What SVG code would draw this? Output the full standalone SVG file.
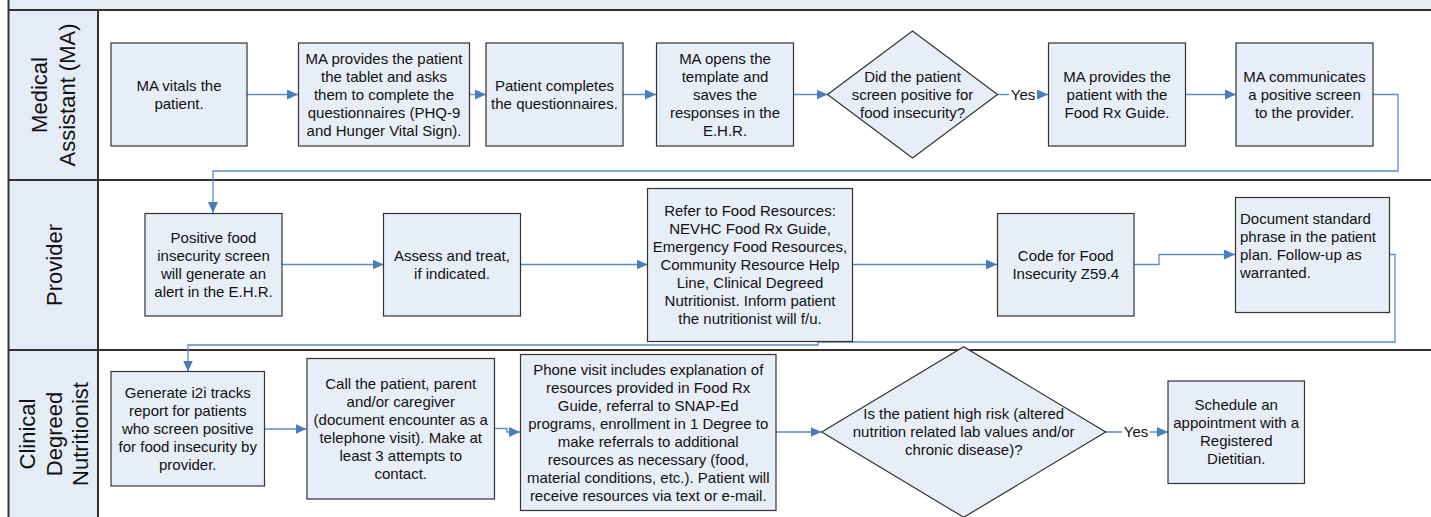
<svg xmlns="http://www.w3.org/2000/svg" width="1431" height="517" viewBox="0 0 1431 517">
<style>
.lane{fill:#e6ecf6;stroke:none}
.sep{stroke:#333;stroke-width:2;fill:none}
.box{fill:#e8eef7;stroke:#333;stroke-width:1.2}
.t{font-family:"Liberation Sans",Arial,sans-serif;font-size:15px;fill:#111;text-anchor:middle}
.tl{font-family:"Liberation Sans",Arial,sans-serif;font-size:15px;fill:#111;text-anchor:start}
.h{font-family:"Liberation Sans",Arial,sans-serif;font-size:22px;fill:#111;text-anchor:middle}
.c{fill:none;stroke:#5a8ad0;stroke-width:1.3;marker-end:url(#ah)}
</style>
<defs>
<marker id="ah" markerUnits="userSpaceOnUse" markerWidth="11" markerHeight="10" refX="11" refY="5" orient="auto">
<path d="M0,0 L11,5 L0,10 z" fill="#4a7ebb"/>
</marker>
</defs>
<rect x="0" y="0" width="1431" height="517" fill="#ffffff"/>
<g id="lanes">
<rect class="lane" x="8" y="0" width="1423" height="10"/>
<rect class="lane" x="8" y="10" width="90" height="507"/>
<line class="sep" x1="8" y1="10" x2="1431" y2="10"/>
<line class="sep" x1="8" y1="180" x2="1431" y2="180"/>
<line class="sep" x1="8" y1="350" x2="1431" y2="350"/>
<line class="sep" x1="8.5" y1="0" x2="8.5" y2="517"/>
<line class="sep" x1="98" y1="10" x2="98" y2="517"/>
<text class="h" transform="translate(0,95) rotate(-90)"><tspan x="0" y="47">Medical</tspan><tspan x="0" y="75">Assistant (MA)</tspan></text>
<text class="h" transform="translate(0,265) rotate(-90)"><tspan x="0" y="62">Provider</tspan></text>
<text class="h" transform="translate(0,434) rotate(-90)"><tspan x="0" y="35">Clinical</tspan><tspan x="0" y="62">Degreed</tspan><tspan x="0" y="88">Nutritionist</tspan></text>
</g>
<g id="connectors">
<path class="c" d="M247,94.5 H298"/>
<path class="c" d="M469,94.5 H486"/>
<path class="c" d="M623,94.5 H656"/>
<path class="c" d="M793,94.5 H827.5"/>
<path class="c" d="M997.5,94.5 H1048"/>
<path class="c" d="M1185,94.5 H1236"/>
<path class="c" d="M1373,94.5 H1398 V171 H213 V213"/>
<path class="c" d="M282,264.5 H383.5"/>
<path class="c" d="M520,264.5 H647.5"/>
<path class="c" d="M853,264.5 H997"/>
<path class="c" d="M1134,264.5 H1159 V254.5 H1235"/>
<path class="c" d="M1389,254.5 H1395 V342 H818 V345 H188 V371.5"/>
<path class="c" d="M264.5,429 H306.5"/>
<path class="c" d="M494.5,428.5 H507 V432 H520"/>
<path class="c" d="M776,432 H821.5"/>
<path class="c" d="M1105.5,432 H1168"/>
<rect x="1009" y="85" width="28" height="18" fill="#fff"/>
<text class="t" x="1023" y="99.5">Yes</text>
<rect x="1122" y="423" width="28" height="18" fill="#fff"/>
<text class="t" x="1136" y="437">Yes</text>
</g>
<g id="n1"><rect class="box" x="111" y="43" width="136" height="103"/>
<text class="t"><tspan x="179" y="90.75">MA vitals the</tspan><tspan x="179" y="108.75">patient.</tspan></text></g>
<g id="n2"><rect class="box" x="298.5" y="43" width="171" height="103"/>
<text class="t"><tspan x="384" y="63.75">MA provides the patient</tspan><tspan x="384" y="81.75">the tablet and asks</tspan><tspan x="384" y="99.75">them to complete the</tspan><tspan x="384" y="117.75">questionnaires (PHQ-9</tspan><tspan x="384" y="135.75">and Hunger Vital Sign).</tspan></text></g>
<g id="n3"><rect class="box" x="486" y="43" width="137" height="103"/>
<text class="t"><tspan x="554.5" y="90.75">Patient completes</tspan><tspan x="554.5" y="108.75">the questionnaires.</tspan></text></g>
<g id="n4"><rect class="box" x="656.5" y="43" width="137" height="103"/>
<text class="t"><tspan x="725" y="63.75">MA opens the</tspan><tspan x="725" y="81.75">template and</tspan><tspan x="725" y="99.75">saves the</tspan><tspan x="725" y="117.75">responses in the</tspan><tspan x="725" y="135.75">E.H.R.</tspan></text></g>
<g id="n5"><polygon class="box" points="827.5,94.5 912.5,31 997.5,94.5 912.5,158"/>
<text class="t"><tspan x="912.5" y="81.75">Did the patient</tspan><tspan x="912.5" y="99.75">screen positive for</tspan><tspan x="912.5" y="117.75">food insecurity?</tspan></text></g>
<g id="n6"><rect class="box" x="1048.5" y="43" width="137" height="103"/>
<text class="t"><tspan x="1117" y="81.75">MA provides the</tspan><tspan x="1117" y="99.75">patient with the</tspan><tspan x="1117" y="117.75">Food Rx Guide.</tspan></text></g>
<g id="n7"><rect class="box" x="1236" y="43" width="137" height="103"/>
<text class="t"><tspan x="1304.5" y="81.75">MA communicates</tspan><tspan x="1304.5" y="99.75">a positive screen</tspan><tspan x="1304.5" y="117.75">to the provider.</tspan></text></g>
<g id="p1"><rect class="box" x="145" y="213.5" width="137" height="102.5"/>
<text class="t"><tspan x="213.5" y="242.5">Positive food</tspan><tspan x="213.5" y="260.5">insecurity screen</tspan><tspan x="213.5" y="278.5">will generate an</tspan><tspan x="213.5" y="296.5">alert in the E.H.R.</tspan></text></g>
<g id="p2"><rect class="box" x="383.5" y="213.5" width="137" height="102.5"/>
<text class="t"><tspan x="452" y="260.5">Assess and treat,</tspan><tspan x="452" y="278.5">if indicated.</tspan></text></g>
<g id="p3"><rect class="box" x="647.5" y="188.5" width="205" height="153"/>
<text class="t"><tspan x="750" y="216.25">Refer to Food Resources:</tspan><tspan x="750" y="234.25">NEVHC Food Rx Guide,</tspan><tspan x="750" y="252.25">Emergency Food Resources,</tspan><tspan x="750" y="270.25">Community Resource Help</tspan><tspan x="750" y="288.25">Line, Clinical Degreed</tspan><tspan x="750" y="306.25">Nutritionist. Inform patient</tspan><tspan x="750" y="324.25">the nutritionist will f/u.</tspan></text></g>
<g id="p4"><rect class="box" x="997.5" y="213.5" width="136.5" height="102.5"/>
<text class="t"><tspan x="1065.75" y="260.5">Code for Food</tspan><tspan x="1065.75" y="278.5">Insecurity Z59.4</tspan></text></g>
<g id="p5"><rect class="box" x="1235.5" y="197.5" width="154" height="115"/>
<text class="tl"><tspan x="1240" y="223.5">Document standard</tspan><tspan x="1240" y="241.5">phrase in the patient</tspan><tspan x="1240" y="259.5">plan. Follow-up as</tspan><tspan x="1240" y="277.5">warranted.</tspan></text></g>
<g id="c1"><rect class="box" x="111" y="371.5" width="153.5" height="114.5"/>
<text class="t"><tspan x="187.75" y="398">Generate i2i tracks</tspan><tspan x="187.75" y="416">report for patients</tspan><tspan x="187.75" y="434">who screen positive</tspan><tspan x="187.75" y="452">for food insecurity by</tspan><tspan x="187.75" y="470">provider.</tspan></text></g>
<g id="c2"><rect class="box" x="307" y="358.5" width="187.5" height="140.5"/>
<text class="t"><tspan x="400.75" y="389">Call the patient, parent</tspan><tspan x="400.75" y="407">and/or caregiver</tspan><tspan x="400.75" y="425">(document encounter as a</tspan><tspan x="400.75" y="443">telephone visit). Make at</tspan><tspan x="400.75" y="461">least 3 attempts to</tspan><tspan x="400.75" y="479">contact.</tspan></text></g>
<g id="c3"><rect class="box" x="520.5" y="354.5" width="255.5" height="156"/>
<text class="t"><tspan x="648.25" y="374.5">Phone visit includes explanation of</tspan><tspan x="648.25" y="392.5">resources provided in Food Rx</tspan><tspan x="648.25" y="410.5">Guide, referral to SNAP-Ed</tspan><tspan x="648.25" y="428.5">programs, enrollment in 1 Degree to</tspan><tspan x="648.25" y="446.5">make referrals to additional</tspan><tspan x="648.25" y="464.5">resources as necessary (food,</tspan><tspan x="648.25" y="482.5">material conditions, etc.). Patient will</tspan><tspan x="648.25" y="500.5">receive resources via text or e-mail.</tspan></text></g>
<g id="c4"><polygon class="box" points="821.7,432 963.7,346.7 1105.7,432 963.7,517.3"/>
<text class="t"><tspan x="963.7" y="419.25">Is the patient high risk (altered</tspan><tspan x="963.7" y="437.25">nutrition related lab values and/or</tspan><tspan x="963.7" y="455.25">chronic disease)?</tspan></text></g>
<g id="c5"><rect class="box" x="1168" y="381" width="136.5" height="102.5"/>
<text class="t"><tspan x="1236.25" y="410.25">Schedule an</tspan><tspan x="1236.25" y="428.25">appointment with a</tspan><tspan x="1236.25" y="446.25">Registered</tspan><tspan x="1236.25" y="464.25">Dietitian.</tspan></text></g>
</svg>
